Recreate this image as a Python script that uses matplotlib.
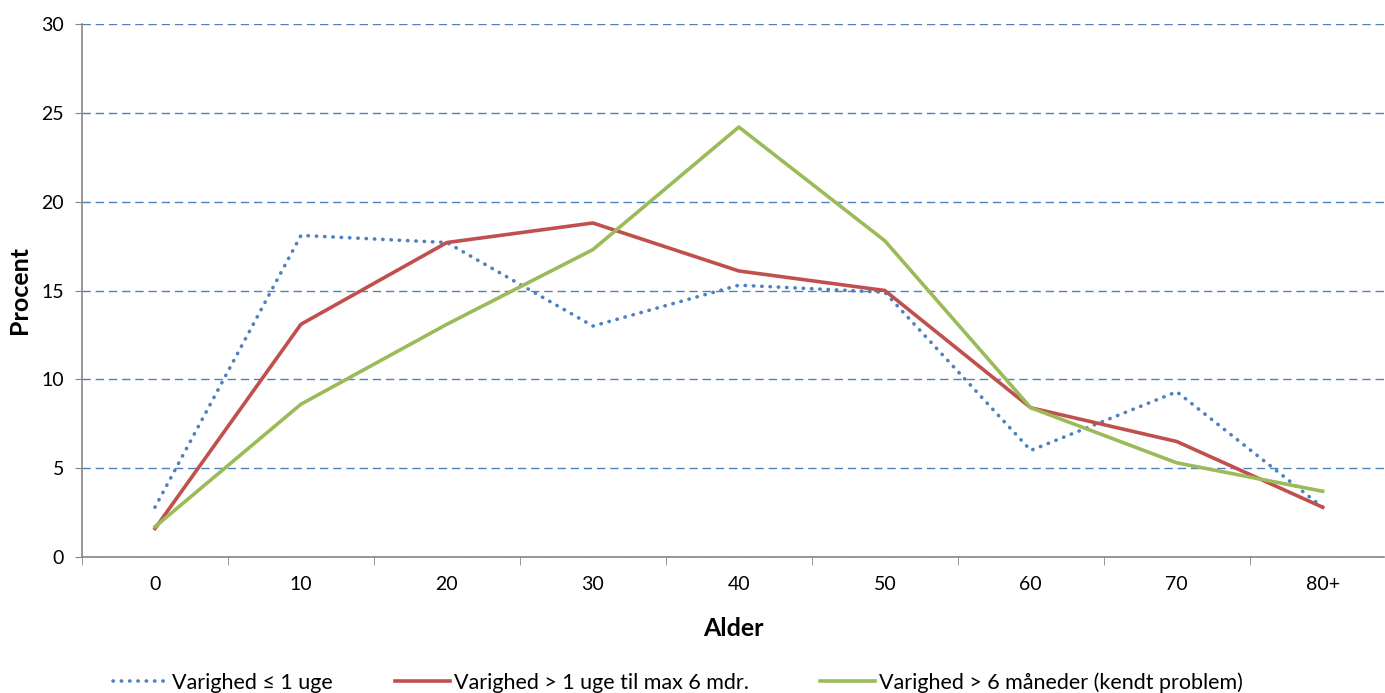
import numpy as np
import matplotlib.pyplot as plt
from matplotlib.ticker import FixedLocator, NullFormatter

plt.rcParams['font.family'] = ['Lato', 'DejaVu Sans']

# data
ages = ['0', '10', '20', '30', '40', '50', '60', '70', '80+']
short = [2.8, 18.1, 17.7, 13.0, 15.3, 14.9, 6.0, 9.3, 2.8]
medium = [1.6, 13.1, 17.7, 18.8, 16.1, 15.0, 8.4, 6.5, 2.8]
long_ = [1.7, 8.6, 13.1, 17.3, 24.2, 17.8, 8.4, 5.3, 3.7]
labels = ['Varighed \u2264 1 uge',
          'Varighed > 1 uge til max 6 mdr.',
          'Varighed > 6 m\u00e5neder (kendt problem)']

blue = '#4F81BD'
red = '#C0504D'
green = '#9BBB59'

W, H = 1385, 693
fig = plt.figure(figsize=(W / 100, H / 100), dpi=100)
ax = fig.add_axes([82 / W, 1 - 557 / H, (1384 - 82) / W, (557 - 24) / H])

x = np.arange(len(ages))
h1, = ax.plot(x, short, color=blue, lw=2.6, linestyle=(0, (0.1, 2.2)),
              dash_capstyle='round', label=labels[0], zorder=3)
h2, = ax.plot(x, medium, color=red, lw=2.6, label=labels[1], zorder=3)
h3, = ax.plot(x, long_, color=green, lw=2.6, label=labels[2], zorder=3)

ax.set_ylim(0, 30)
ax.set_xlim(-0.5, 8.42)
ax.set_yticks(range(0, 31, 5))
ax.yaxis.grid(True, color=blue, linestyle=(0, (6, 3.5)), lw=1.0)
ax.set_axisbelow(True)

ax.set_xticks(x)
ax.set_xticklabels(ages)
ax.xaxis.set_minor_locator(FixedLocator(np.arange(-0.5, 8.6, 1.0)))
ax.xaxis.set_minor_formatter(NullFormatter())
ax.tick_params(axis='x', which='major', length=0, pad=14, labelsize=14)
ax.tick_params(axis='x', which='minor', length=6, color='#868686', direction='out')
ax.tick_params(axis='y', length=5, color='#868686', labelsize=14, pad=8)

for side in ['top', 'right']:
    ax.spines[side].set_visible(False)
for side in ['left', 'bottom']:
    ax.spines[side].set_color('#868686')
    ax.spines[side].set_linewidth(1.2)

ax.set_ylabel('Procent', fontsize=18, fontweight='bold', va='center')
ax.yaxis.set_label_coords((20 - 82) / 1302, 0.5)
ax.set_xlabel('Alder', fontsize=18, fontweight='bold', va='center')
ax.xaxis.set_label_coords(0.5, (557 - 628) / 533)

# one legend per series so each entry sits where it does in the reference
for h, x0 in zip([h1, h2, h3], [113, 395, 820]):
    fig.legend(handles=[h], loc='lower left', bbox_to_anchor=(x0 / W, 0.0),
               frameon=False, fontsize=15.5, handlelength=2.55,
               handletextpad=0.2, borderpad=0, borderaxespad=0)

fig.savefig('out.png', dpi=100)
